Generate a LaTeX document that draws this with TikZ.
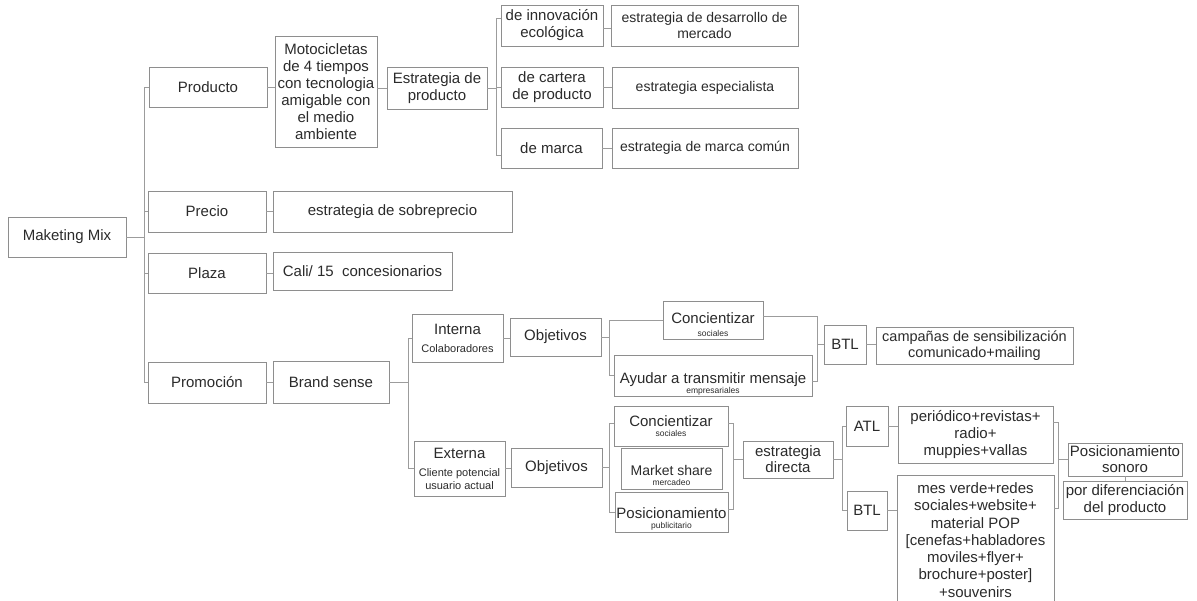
\documentclass[tikz,border=0pt]{standalone}
\usepackage{fontspec}
\setmainfont{Liberation Sans}
\definecolor{ink}{HTML}{2B2B2B}
\definecolor{rule}{HTML}{8E8E8E}
\definecolor{wire}{HTML}{9C9C9C}
\newcommand\sz[2]{\fontsize{#1}{#2}\selectfont}
\begin{document}
\begin{tikzpicture}[x=1pt,y=-1pt,
  box/.style={draw=rule,line width=0.9pt,inner sep=0pt,outer sep=0pt,align=center,text=ink,font=\sz{15}{17}},
  txt/.style={inner sep=0pt,align=center,text=ink,font=\sz{15}{17}},
  link/.style={draw=wire,line width=0.9pt}]
\useasboundingbox (0,0) rectangle (1197,601);
\clip (0,0) rectangle (1197,601);
\fill[white] (0,0) rectangle (1197,601);

% root and the four P's
\node[box,minimum width=118,minimum height=40] (mm) at (67,237) {Maketing Mix};
\node[box,minimum width=118,minimum height=40] (prod) at (208,87) {Producto};
\node[box,minimum width=118,minimum height=41] (prec) at (207,211.5) {Precio};
\node[box,minimum width=118,minimum height=40] (plaz) at (207,273) {Plaza};
\node[box,minimum width=118,minimum height=41] (prom) at (207,382.5) {Promoción};

% product branch
\node[box,minimum width=102,minimum height=111] (moto) at (326,91.5) {Motocicletas\\de 4 tiempos\\con tecnologia\\amigable con\\el medio\\ambiente};
\node[box,minimum width=100,minimum height=42] (estp) at (437,88) {Estrategia de\\producto};
\node[box,minimum width=102,minimum height=41] (inno) at (552,25.5) {de innovación\\ecológica};
\node[box,minimum width=187,minimum height=41,font=\sz{14}{17}] (desa) at (704.5,25.5) {estrategia de desarrollo de\\mercado};
\node[box,minimum width=102,minimum height=40] (cart) at (552,87) {de cartera\\de producto};
\node[box,minimum width=186,minimum height=41,font=\sz{14}{17}] (espe) at (705,87.5) {estrategia especialista};
\node[box,minimum width=101,minimum height=40] (marc) at (551.5,148) {de marca};
\node[box,minimum width=186,minimum height=40,font=\sz{14}{17}] (comu) at (705,148) {estrategia de marca común};

% price and place
\node[box,minimum width=239,minimum height=41] (sobr) at (392.5,211.5) {estrategia de sobreprecio};
\node[box,minimum width=179,minimum height=38] (cali) at (362.5,271) {Cali/ 15\ \ concesionarios};

% promotion branch: internal communication
\node[box,minimum width=116,minimum height=42] (bran) at (331,382.5) {Brand sense};
\node[box,minimum width=91,minimum height=48] (intr) at (457.5,338) {Interna\\[1pt]{\sz{11}{12}Colaboradores}};
\node[box,minimum width=91,minimum height=38] (obji) at (555.5,337) {Objetivos};
\node[box,minimum width=100,minimum height=38] (conc1) at (713,320) {};
\node[txt] (conc1t) at (713,324.5) {Concientizar\\[-4pt]{\sz{8.5}{10}sociales}};
\node[box,minimum width=198,minimum height=41] (ayud) at (713,375.5) {};
\node[txt] (ayudt) at (713,383.5) {Ayudar a transmitir mensaje\\[-7pt]{\sz{8.5}{10}empresariales}};
\node[box,minimum width=42,minimum height=39] (btl1) at (845,344.5) {BTL};
\node[box,minimum width=197,minimum height=37,font=\sz{14.5}{16}] (camp) at (974.5,345.5) {campañas de sensibilización\\comunicado+mailing};

% promotion branch: external communication
\node[box,minimum width=91,minimum height=55] (extr) at (459.5,468.5) {Externa\\[1pt]{\sz{11}{13}Cliente potencial}\\[-4pt]{\sz{11}{13}usuario actual}};
\node[box,minimum width=91,minimum height=39] (obje) at (556.5,467.5) {Objetivos};
\node[box,minimum width=114,minimum height=40] (conc2) at (671,426) {Concientizar\\[-7pt]{\sz{8.5}{10}sociales}};
\node[box,minimum width=101,minimum height=41] (mark) at (671.5,468.5) {};
\node[txt,font=\sz{14}{17}] (markt) at (671.5,475.5) {Market share\\[-7pt]{\sz{8.5}{10}mercadeo}};
\node[box,minimum width=113,minimum height=40] (posi) at (671.5,512) {};
\node[txt] (posit) at (671.5,519) {Posicionamiento\\[-7pt]{\sz{8.5}{10}publicitario}};
\node[box,minimum width=90,minimum height=37,font=\sz{15}{16}] (estd) at (788,459.5) {estrategia\\directa};
\node[box,minimum width=42,minimum height=40] (atl) at (867,426) {ATL};
\node[box,minimum width=155,minimum height=57] (peri) at (975.5,434.5) {periódico+revistas+\\radio+\\muppies+vallas};
\node[box,minimum width=40,minimum height=39] (btl2) at (867,510.5) {BTL};
\node[box,minimum width=157,minimum height=130,font=\sz{15}{17.3}] (mesv) at (975.5,540) {mes verde+redes\\sociales+website+\\material POP\\{[}cenefas+habladores\\moviles+flyer+\\brochure+poster]\\+souvenirs};
\node[box,minimum width=114,minimum height=33,font=\sz{15}{16}] (sono) at (1125,459.5) {Posicionamiento\\sonoro};
\node[box,minimum width=124,minimum height=38] (dife) at (1125,500) {por diferenciación\\del producto};

% junction points of the elbow connectors
\coordinate (j1) at (144,237);
\coordinate (j2) at (496,88);
\coordinate (j3) at (408,382.5);
\coordinate (j4) at (609,337);
\coordinate (j5) at (817,344.5);
\coordinate (j6) at (609,467.5);
\coordinate (j7) at (733,459.5);
\coordinate (j8) at (842,459.5);
\coordinate (j9) at (1058,459.5);

% connectors
\draw[link] (mm.east) -- (j1) |- (prod.west);
\draw[link] (j1) |- (prec.west);
\draw[link] (j1) |- (plaz.west);
\draw[link] (j1) |- (prom.west);

\draw[link] (prod.east) -- (prod.east -| moto.west);
\draw[link] (estp.west -| moto.east) -- (estp.west);
\draw[link] (estp.east) -- (j2) |- ([yshift=7.5pt]inno.west);
\draw[link] (j2) |- (cart.west);
\draw[link] (j2) |- ([yshift=-7pt]marc.west);
\draw[link] ([yshift=-2.5pt]inno.east) -- ([yshift=-2.5pt]inno.east -| desa.west);
\draw[link] (cart.east) -- (cart.east -| espe.west);
\draw[link] (marc.east) -- (marc.east -| comu.west);

\draw[link] (prec.east) -- (sobr.west);
\draw[link] (plaz.east) -- (plaz.east -| cali.west);

\draw[link] (prom.east) -- (bran.west);
\draw[link] (bran.east) -- (j3) |- (intr.west);
\draw[link] (j3) |- (extr.west);

\draw[link] (intr.east) -- (intr.east -| obji.west);
\draw[link] (obji.east) -- (j4) |- (conc1.west);
\draw[link] (j4) |- (ayud.west);
\draw[link] ([yshift=4pt]conc1.east) -| (j5) -- (btl1.west);
\draw[link] ([yshift=-5.5pt]ayud.east) -| (j5);
\draw[link] (btl1.east) -- (btl1.east -| camp.west);

\draw[link] (extr.east) -- (extr.east -| obje.west);
\draw[link] (obje.east) -- (j6) |- ([yshift=3pt]conc2.west);
\draw[link] (j6) |- (posi.west);
\draw[link] ([yshift=3pt]conc2.east) -| (j7) -- (estd.west);
\draw[link] ([yshift=3pt]posi.east) -| (j7);
\draw[link] (estd.east) -- (j8) |- (atl.west);
\draw[link] (j8) |- (btl2.west);
\draw[link] (atl.east) -- (atl.east -| peri.west);
\draw[link] (btl2.east) -- (btl2.east -| mesv.west);
\draw[link] ([yshift=12.5pt]peri.east) -| (j9) -- (sono.west);
\draw[link] ([yshift=32pt]mesv.east) -| (j9);
\draw[link] (sono.south) -- (dife.north);
\end{tikzpicture}
\end{document}
